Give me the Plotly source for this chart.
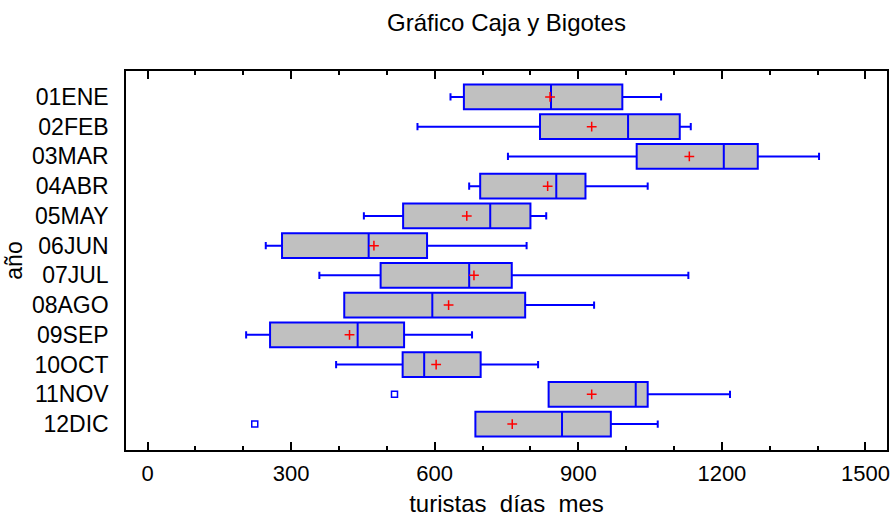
import plotly.graph_objects as go

categories = ['01ENE', '02FEB', '03MAR', '04ABR', '05MAY', '06JUN',
              '07JUL', '08AGO', '09SEP', '10OCT', '11NOV', '12DIC']
lower_whisker = [633, 564, 753, 672, 452, 247, 359, 411, 206, 394, 838, 685]
q1_values = [661, 820, 1022, 695, 534, 281, 487, 411, 256, 533, 838, 685]
median_values = [843, 1004, 1204, 854, 716, 462, 672, 595, 439, 578, 1020, 866]
q3_values = [992, 1112, 1275, 915, 800, 584, 761, 789, 536, 696, 1045, 968]
upper_whisker = [1073, 1135, 1403, 1045, 833, 792, 1130, 933, 678, 816, 1217, 1066]
mean_values = [841, 928, 1132, 836, 667, 473, 682, 629, 422, 603, 928, 762]
outlier_cats = ['11NOV', '12DIC']
outlier_values = [516, 224]

FONT = "Liberation Sans, Arial, sans-serif"

fig = go.Figure()
fig.add_trace(go.Box(
    y=categories, q1=q1_values, median=median_values, q3=q3_values,
    lowerfence=lower_whisker, upperfence=upper_whisker,
    orientation='h', boxpoints=False, width=0.83, whiskerwidth=0.3,
    fillcolor='#C0C0C0', line=dict(color='#0000FF', width=2),
    showlegend=False, hoverinfo='skip'))
fig.add_trace(go.Scatter(
    x=mean_values, y=categories, mode='markers',
    marker=dict(symbol='cross-thin', size=7, line=dict(color='#FF0000', width=1.5)),
    showlegend=False, hoverinfo='skip'))
fig.add_trace(go.Scatter(
    x=outlier_values, y=outlier_cats, mode='markers',
    marker=dict(symbol='square-open', size=6, color='#0000FF', line=dict(color='#0000FF', width=1.5)),
    showlegend=False, hoverinfo='skip'))

fig.update_layout(
    width=896, height=518,
    margin=dict(l=126, r=9, t=71, b=68),
    paper_bgcolor='white', plot_bgcolor='white',
    font=dict(family=FONT, color='black', size=22),
    title=dict(text='Gráfico Caja y Bigotes', x=(506.5 / 896), xref='container',
               xanchor='center', y=1 - 23 / 518, yref='container', yanchor='middle',
               font=dict(family=FONT, size=24, color='black')),
)
fig.update_xaxes(
    range=[-45, 1545], tickmode='array', tickvals=[0, 300, 600, 900, 1200, 1500],
    ticktext=['0', '300', '600', '900', '1200', '1500'],
    ticks='inside', ticklen=8, tickwidth=1.5, tickcolor='black',
    minor=dict(ticks='inside', ticklen=4, tickwidth=1.5, tickcolor='black', dtick=100, tick0=0, showgrid=False),
    showline=True, linecolor='black', linewidth=1.5, mirror='ticks',
    showgrid=False, zeroline=False, automargin=False, ticklabelstandoff=3,
    tickfont=dict(size=22), title=dict(text='turistas\u00a0 días\u00a0 mes', font=dict(size=24), standoff=10),
)
fig.update_yaxes(
    type='category', categoryorder='array', categoryarray=categories,
    range=[11.87, -0.87],
    showline=True, linecolor='black', linewidth=1.5, mirror=True,
    ticks='', showgrid=False, zeroline=False, automargin=False,
    tickfont=dict(size=23), ticklabelstandoff=11,
    title=dict(text='año', font=dict(size=23), standoff=3),
)

fig.write_html('out.html', config={'displayModeBar': False},
               post_script="document.body.style.margin='0';document.body.style.padding='0';")
